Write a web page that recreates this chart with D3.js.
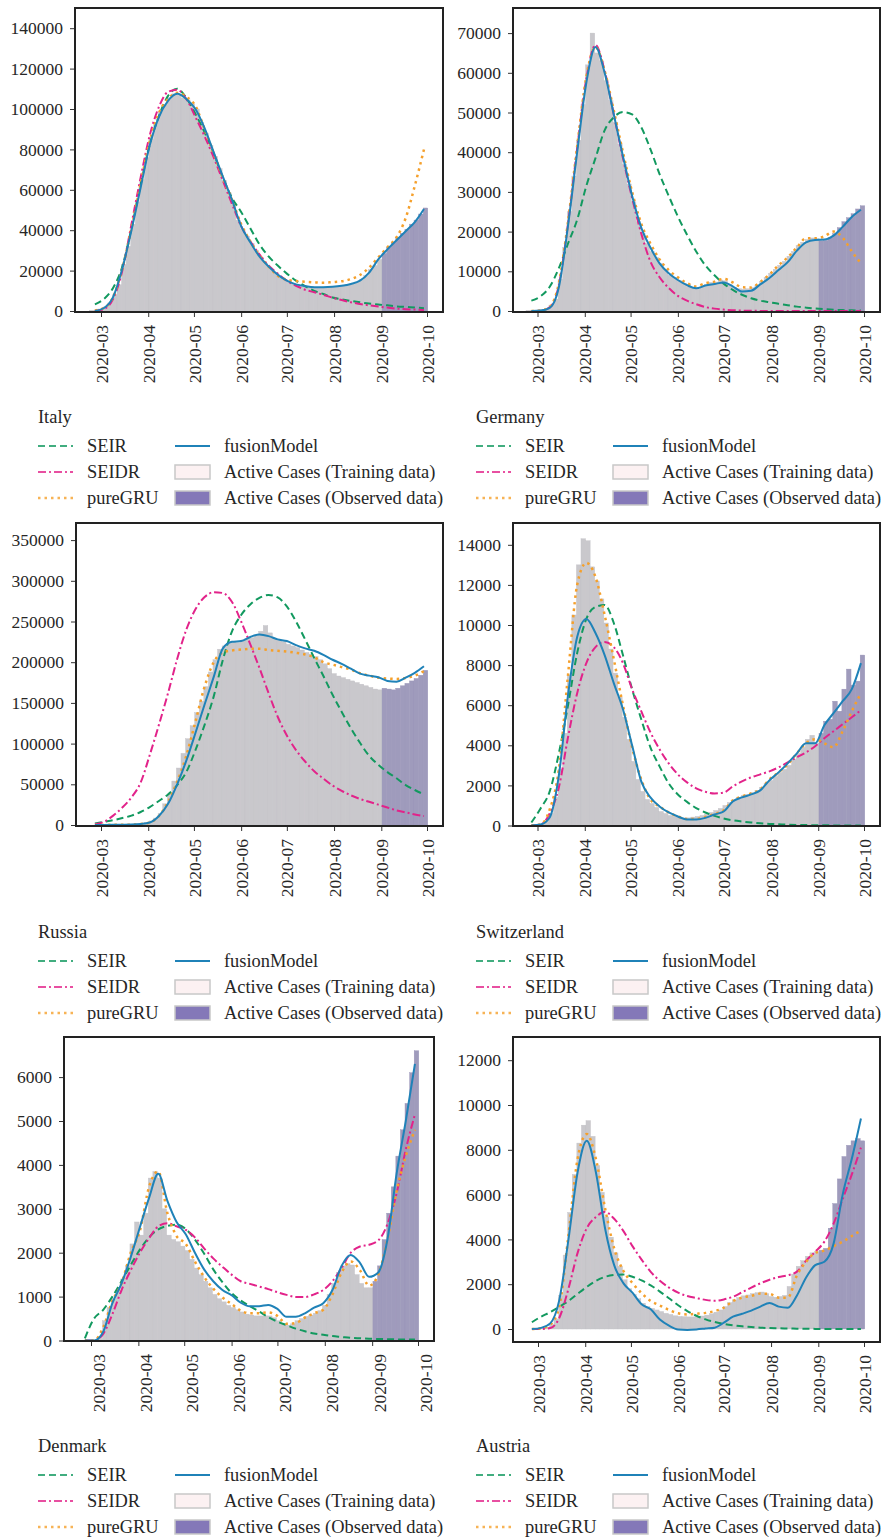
<!DOCTYPE html>
<html>
<head>
<meta charset="utf-8">
<script src="https://cdn.jsdelivr.net/npm/d3@7"></script>
<style>
  body { margin: 0; background: #fff; }
  svg { display: block; }
  text { font-family: "Liberation Serif", "Times New Roman", serif; fill: #262626; }
</style>
</head>
<body>
<div id="chart"></div>
<script>
// date grids: bars every 3 days, model curves every 6 days
const barStart = "2020-02-24", barStep = 3;
const lineStart = "2020-02-26", lineStep = 6;
const splitDate = "2020-09-01";
const monthTicks = ["2020-03", "2020-04", "2020-05", "2020-06", "2020-07", "2020-08", "2020-09", "2020-10"];

// ---- Italy
const italyTicks = [0, 20000, 40000, 60000, 80000, 100000, 120000, 140000];
const italyActive = [200,500,1000,2000,4000,8000,13000,23000,32000,43000,54000,65000,76000,85000,93000,98500,102000,105500,107500,107000,105500,104500,102500,100000,93500,88000,82000,76500,70500,64500,58500,52500,45000,40500,37000,33500,30000,26500,23500,21000,19000,17000,15500,14500,13500,13000,12500,12200,12000,11800,11800,11900,12000,12100,12300,12600,13000,13500,14300,15500,17500,20500,22500,25500,28500,31500,34000,36500,38500,40500,43000,45000,48000,51000];
const italySEIR = [3300,6000,11500,22000,41000,62500,82500,96500,106500,110000,105500,97500,88500,78000,66000,56000,49000,41000,33000,27000,22500,18500,15000,12300,10000,8400,6700,5800,5000,4300,3700,3200,2800,2300,2000,1700,1400];
const italySEIDR = [0,1000,6000,20000,43000,66000,87000,101000,108500,109500,105000,96000,86500,76000,64500,53000,42000,34500,28000,22500,18500,15000,12500,10500,9300,8000,6600,5400,4300,3500,2800,2200,1700,1200,900,700,500];
const italyGRU = [300,1500,7000,21000,41000,63000,84000,98000,105000,108000,106000,101500,90000,78000,66000,55000,43000,34500,27500,22000,17500,15500,14800,14500,14200,14000,14300,14700,15800,17800,21500,26500,31500,36500,46000,62000,80000];
const italyFusion = [0,1500,7000,21000,40000,61000,82000,96000,104000,107500,105000,100000,90500,78500,66500,55000,42000,34000,27000,22000,18000,15000,13200,12300,11800,11800,12000,12500,13400,15000,19000,25500,30500,35000,39500,44000,50500];

// ---- Germany
const germanyTicks = [0, 10000, 20000, 30000, 40000, 50000, 60000, 70000];
const germanyActive = [100,150,200,300,700,1500,3000,8000,16000,25000,34000,43000,52000,62000,70000,65000,63000,58000,53000,47500,42000,37000,32000,27500,22500,19500,17000,15000,13500,12000,10500,9000,8400,7700,7000,6600,6000,5500,6000,6600,7200,7300,7800,7600,6800,6000,5600,5500,5600,5900,6500,7500,8500,9500,10500,11500,12500,13800,15000,16500,17300,18000,18400,18200,17700,17800,18500,19500,21000,22500,23500,24500,25700,26500];
const germanySEIR = [2600,3700,6100,10800,17000,23000,31500,38500,45500,48800,50100,49500,46300,40800,34500,29000,23800,19200,15000,11500,9000,6900,5300,4100,3200,2600,2200,1800,1450,1100,850,620,450,320,230,160,100];
const germanySEIDR = [0,100,900,6500,22000,41000,58500,67000,60500,49500,38500,28500,19500,12500,8500,5800,3800,2600,1700,1000,600,350,200,100,50,30,20,10,10,5,0,0,0,0,0,0,0];
const germanyGRU = [0,150,1000,7000,22500,41500,59000,66500,60500,50500,40000,30000,22000,17000,13000,10300,8500,7000,6200,7000,7400,8100,7200,6000,5900,7300,9200,11500,13500,16000,18300,18300,18800,20000,18500,15000,12000];
const germanyFusion = [0,100,800,6000,21500,40000,57500,66500,60000,49500,39000,29000,21000,16000,12000,9500,7800,6500,5700,6400,6800,7200,6200,4900,5100,6700,8300,10300,12300,15200,17300,17900,18000,19000,21200,23700,25500];

// ---- Russia
const russiaTicks = [0, 50000, 100000, 150000, 200000, 250000, 300000, 350000];
const russiaActive = [0,0,50,100,100,200,300,400,600,900,1300,2000,3000,5000,8500,14000,26000,38000,54000,70000,88000,106000,122000,138000,152000,170000,188000,203000,216000,220000,223000,225000,224000,227000,229000,230000,233000,238000,245000,236000,229000,227000,225000,222000,220000,218000,215000,212000,210000,207000,203000,198000,192000,186000,183000,181000,179000,177000,175000,173000,171000,169000,167000,166000,168000,167000,166000,168000,171000,174000,177000,180000,184000,190000];
const russiaSEIR = [2000,4000,6000,8500,11500,16000,22000,29500,37500,49000,65000,92000,123000,158000,203000,238000,258000,271000,279000,282500,279500,268500,250000,228000,205000,183000,160000,139000,119000,101000,85000,74000,65000,57500,49000,43000,37500];
const russiaSEIDR = [1000,4000,11500,21500,34000,52000,86000,123000,162000,204000,240000,265000,280000,286000,285000,274000,250000,222000,193000,162000,133000,110000,92000,78000,66000,57000,48500,42000,36500,32000,28500,25000,21500,18000,15500,13000,11000];
const russiaGRU = [0,100,200,300,500,1200,3000,11000,28000,53000,85000,127000,170000,200000,212000,214500,215500,216500,216500,215000,214000,213000,211500,209500,206000,200000,197000,194000,191000,186500,183500,181000,180000,179500,180500,183500,189000];
const russiaFusion = [0,100,200,300,500,1200,3000,11000,26000,50000,79000,113000,148000,182000,217000,225000,226000,231000,234000,232000,228000,226000,221000,217000,214000,209000,203000,198000,192000,186000,183500,181500,177000,176000,181000,187000,195000];

// ---- Switzerland
const swissTicks = [0, 2000, 4000, 6000, 8000, 10000, 12000, 14000];
const swissActive = [0,0,20,50,200,600,1400,2800,4600,7500,10500,13000,14300,14200,12900,12200,11300,10100,8800,7600,6400,5400,4300,3200,2300,1700,1300,1100,900,700,600,500,450,400,380,380,420,450,500,560,650,750,850,1000,1150,1300,1400,1500,1550,1650,1750,1900,2100,2250,2450,2650,2800,3000,3300,3600,3900,4300,4500,4100,4600,5200,5300,6200,5700,6800,7800,7000,7200,8500];
const swissSEIR = [150,850,1700,3600,6000,8600,10300,10900,11000,10100,8500,6800,5300,3900,2950,2100,1550,1180,870,650,480,350,260,200,150,110,80,60,40,30,20,15,10,5,5,0,0];
const swissSEIDR = [0,50,600,1900,4400,6600,8100,8900,9150,8900,8100,6800,5700,4650,3800,3100,2550,2150,1850,1680,1600,1640,1950,2200,2400,2550,2700,2900,3150,3400,3650,3950,4350,4700,5050,5400,5750];
const swissGRU = [0,50,800,2800,7500,12000,13100,12400,10500,8300,6000,3900,2300,1300,950,650,450,330,330,420,580,750,1250,1450,1600,1800,2300,2650,3050,3600,4100,4300,4100,3900,4700,5700,6600];
const swissFusion = [0,50,400,2500,6500,9400,10300,9600,8500,7100,5800,4000,2200,1400,950,650,450,300,300,380,550,700,1200,1400,1550,1750,2250,2650,3100,3600,4100,4100,5000,5600,6200,6800,8100];

// ---- Denmark
const denmarkTicks = [0, 1000, 2000, 3000, 4000, 5000, 6000];
const denmarkActive = [0,0,0,0,50,450,750,950,1150,1400,1700,2200,2700,2400,2900,3700,3850,3700,3000,2400,2300,2250,2150,2050,1850,1650,1500,1350,1200,1050,950,880,800,750,700,650,600,580,560,560,560,560,520,450,380,350,380,450,500,550,580,620,680,800,1050,1300,1550,1700,1750,1720,1500,1300,1200,1200,1350,1700,2300,2900,3500,4200,4800,5400,6100,6600];
const denmarkSEIR = [50,500,700,1000,1350,1720,2070,2350,2530,2610,2640,2540,2300,1980,1620,1330,1080,910,780,660,530,430,350,270,210,160,130,100,80,60,50,40,35,30,25,20,20];
const denmarkSEIDR = [0,0,150,600,1150,1600,2000,2330,2600,2670,2600,2520,2350,2100,1870,1680,1500,1350,1290,1230,1170,1100,1040,990,990,1050,1150,1350,1650,2000,2140,2180,2280,2650,3350,4350,5150];
const denmarkGRU = [0,0,300,900,1300,2000,2500,3500,3850,2900,2380,2200,1800,1450,1180,980,830,680,620,620,640,560,380,400,520,620,700,1050,1550,1800,1600,1250,1500,2300,3400,4200,4800];
const denmarkFusion = [0,0,200,850,1300,1900,2580,3250,3800,3180,2700,2420,2000,1620,1350,1150,1030,860,780,780,810,720,540,540,620,750,850,1150,1700,1950,1770,1450,1550,2300,3800,5000,6300];

// ---- Austria
const austriaTicks = [0, 2000, 4000, 6000, 8000, 10000, 12000];
const austriaActive = [0,0,10,30,80,200,450,1500,3300,5200,6900,8300,9100,9300,8600,7300,6100,5000,4100,3400,2800,2200,1800,1550,1350,1150,1000,920,850,780,700,650,590,560,550,540,540,560,580,620,680,750,850,1000,1180,1300,1400,1480,1520,1580,1620,1650,1580,1450,1420,1450,1500,1900,2450,2800,3050,3250,3400,3450,3520,3600,4500,5600,6700,7700,8200,8400,8500,8400];
const austriaSEIR = [300,550,750,1000,1250,1570,1880,2150,2330,2410,2430,2330,2170,1950,1670,1370,1060,800,590,430,310,230,170,120,90,60,40,30,20,15,10,5,0,0,0,0,0];
const austriaSEIDR = [0,0,40,500,1800,3400,4500,5000,5230,4920,4380,3700,3100,2550,2150,1850,1620,1470,1380,1300,1260,1320,1440,1640,1850,2040,2200,2320,2400,2560,3050,3450,3900,4700,5800,6900,8100];
const austriaGRU = [0,30,200,1000,4200,7600,8700,7600,5400,3600,2600,2050,1600,1250,1050,850,700,650,680,720,800,950,1250,1400,1480,1580,1570,1400,1400,2400,3000,3400,3500,3700,3900,4150,4400];
const austriaFusion = [0,50,250,1300,4000,7000,8400,7000,4500,2850,2050,1620,1100,880,420,150,-20,-40,-20,20,60,280,550,680,820,1000,1160,1000,950,1500,2300,2850,3000,3800,6000,7600,9400];

const countries = [
  { name: "Italy", active: italyActive, SEIR: italySEIR, SEIDR: italySEIDR, pureGRU: italyGRU, fusionModel: italyFusion, ticks: italyTicks },
  { name: "Germany", active: germanyActive, SEIR: germanySEIR, SEIDR: germanySEIDR, pureGRU: germanyGRU, fusionModel: germanyFusion, ticks: germanyTicks },
  { name: "Russia", active: russiaActive, SEIR: russiaSEIR, SEIDR: russiaSEIDR, pureGRU: russiaGRU, fusionModel: russiaFusion, ticks: russiaTicks },
  { name: "Switzerland", active: swissActive, SEIR: swissSEIR, SEIDR: swissSEIDR, pureGRU: swissGRU, fusionModel: swissFusion, ticks: swissTicks },
  { name: "Denmark", active: denmarkActive, SEIR: denmarkSEIR, SEIDR: denmarkSEIDR, pureGRU: denmarkGRU, fusionModel: denmarkFusion, ticks: denmarkTicks },
  { name: "Austria", active: austriaActive, SEIR: austriaSEIR, SEIDR: austriaSEIDR, pureGRU: austriaGRU, fusionModel: austriaFusion, ticks: austriaTicks }
];

// pixel layout of each panel: frame box, x of Mar-1 / Oct-1, y of zero and px per tick step
const layout = {
  Italy:       { box: [75, 8, 443, 312],     mar: 101,   oct: 427, y0: 311,    step: 40.4, legend: [38, 417],   shift: 0 },
  Germany:     { box: [513, 8, 880, 312],    mar: 537.5, oct: 864, y0: 311,    step: 39.7, legend: [476, 417],  shift: 0 },
  Russia:      { box: [76, 523, 443, 826],   mar: 101,   oct: 427, y0: 825,    step: 40.7, legend: [38, 932],   shift: 0 },
  Switzerland: { box: [513, 523, 880, 826],  mar: 537.5, oct: 864, y0: 825.5,  step: 40.1, legend: [476, 932],  shift: 0 },
  Denmark:     { box: [64, 1037, 434, 1341], mar: 91,    oct: 418, y0: 1340.5, step: 43.9, legend: [38, 1446],  shift: 7 },
  Austria:     { box: [513, 1037, 880, 1342],mar: 538,   oct: 864, y0: 1329,   step: 44.8, legend: [476, 1446], shift: 0 }
};

const styles = {
  SEIR:        { color: "#12995f", dash: "7,4",     width: 2 },
  SEIDR:       { color: "#e2238a", dash: "8,3,2,3", width: 2 },
  pureGRU:     { color: "#f5a02c", dash: "2.5,4",   width: 2.5 },
  fusionModel: { color: "#1f82b8", dash: null,      width: 2 }
};
const trainFill = "#c9c8cc", obsFill = "#9f9bbc";

const parseDay = d3.utcParse("%Y-%m-%d");
const parseMonth = d3.utcParse("%Y-%m");
const split = parseDay(splitDate);
const barDate = i => d3.utcDay.offset(parseDay(barStart), i * barStep);
const lineDate = i => d3.utcDay.offset(parseDay(lineStart), i * lineStep);
const months = monthTicks.map(parseMonth);

const svg = d3.select("#chart").append("svg")
    .attr("width", 882)
    .attr("height", 1537);

countries.forEach((c, ci) => {
  const L = layout[c.name];
  const [bx0, by0, bx1, by1] = L.box;

  const x = d3.scaleUtc()
      .domain([parseMonth("2020-03"), parseMonth("2020-10")])
      .range([L.mar, L.oct]);
  const y = d3.scaleLinear()
      .domain([0, c.ticks[1]])
      .range([L.y0, L.y0 - L.step]);

  const g = svg.append("g");

  g.append("clipPath").attr("id", "clip" + ci)
    .append("rect")
      .attr("x", bx0).attr("y", by0)
      .attr("width", bx1 - bx0).attr("height", by1 - by0);

  const plot = g.append("g").attr("clip-path", `url(#clip${ci})`);

  // active cases bars
  const half = 36; // hours either side of the bar date
  plot.append("g")
    .selectAll("rect")
    .data(c.active)
    .join("rect")
      .attr("x", (d, i) => x(d3.utcHour.offset(barDate(i), -half)))
      .attr("width", (d, i) => x(d3.utcHour.offset(barDate(i), half)) - x(d3.utcHour.offset(barDate(i), -half)))
      .attr("y", d => y(Math.max(d, 0)))
      .attr("height", d => y(0) - y(Math.max(d, 0)))
      .attr("fill", (d, i) => barDate(i) > split ? obsFill : trainFill)
      .attr("stroke", (d, i) => barDate(i) > split ? "#9893b7" : "#c2c1c6")
      .attr("stroke-width", 0.4);

  // model curves
  const line = d3.line()
      .x((d, i) => x(lineDate(i)))
      .y(d => y(d))
      .curve(d3.curveMonotoneX);

  ["SEIR", "SEIDR", "pureGRU", "fusionModel"].forEach(k => {
    const s = styles[k];
    plot.append("path")
        .attr("d", line(c[k]))
        .attr("fill", "none")
        .attr("stroke", s.color)
        .attr("stroke-width", s.width)
        .attr("stroke-dasharray", s.dash)
        .attr("stroke-linejoin", "round");
  });

  // frame
  g.append("rect")
      .attr("x", bx0).attr("y", by0)
      .attr("width", bx1 - bx0).attr("height", by1 - by0)
      .attr("fill", "none")
      .attr("stroke", "#222")
      .attr("stroke-width", 2);

  // y axis
  g.append("g")
      .attr("transform", `translate(${bx0 - 1},0)`)
      .call(d3.axisLeft(y).tickValues(c.ticks).tickSize(4).tickPadding(7).tickFormat(d3.format("d")))
      .call(a => a.select(".domain").remove())
      .call(a => a.selectAll("line").attr("stroke", "#333"))
      .call(a => a.selectAll("text")
          .attr("font-size", 17.5)
          .attr("font-family", "Liberation Serif, serif")
          .attr("fill", "#2a2a2a"));

  // x axis with rotated month labels
  g.append("g")
      .attr("transform", `translate(0,${by1 + 1})`)
      .call(d3.axisBottom(x).tickValues(months).tickSize(4).tickFormat(d3.utcFormat("%Y-%m")))
      .call(a => a.select(".domain").remove())
      .call(a => a.selectAll("line").attr("stroke", "#333"))
      .call(a => a.selectAll("text")
          .attr("transform", "rotate(-90)")
          .attr("x", -12)
          .attr("y", L.shift)
          .attr("dy", "0.35em")
          .style("text-anchor", "end")
          .attr("font-size", 17.5)
          .attr("font-family", "Liberation Serif, serif")
          .attr("fill", "#2a2a2a"));

  // legend
  const [lx, ly] = L.legend;
  const lg = svg.append("g").attr("font-size", 18.4);
  lg.append("text").attr("x", lx).attr("y", ly).attr("dy", "0.35em").text(c.name);

  const rowY = i => ly + 29 + i * 26;
  ["SEIR", "SEIDR", "pureGRU"].forEach((k, i) => {
    const s = styles[k];
    lg.append("line")
        .attr("x1", lx).attr("x2", lx + 35)
        .attr("y1", rowY(i)).attr("y2", rowY(i))
        .attr("stroke", s.color).attr("stroke-opacity", 0.8)
        .attr("stroke-width", s.width)
        .attr("stroke-dasharray", s.dash);
    lg.append("text").attr("x", lx + 49).attr("y", rowY(i)).attr("dy", "0.35em").text(k);
  });

  const cx = lx + 137;
  lg.append("line")
      .attr("x1", cx).attr("x2", cx + 35)
      .attr("y1", rowY(0)).attr("y2", rowY(0))
      .attr("stroke", styles.fusionModel.color).attr("stroke-width", 2);
  lg.append("text").attr("x", cx + 49).attr("y", rowY(0)).attr("dy", "0.35em").text("fusionModel");

  [["#fcf1f2", "Active Cases (Training data)"], ["#8478b8", "Active Cases (Observed data)"]].forEach(([fill, label], i) => {
    lg.append("rect")
        .attr("x", cx).attr("y", rowY(i + 1) - 7)
        .attr("width", 35).attr("height", 14)
        .attr("fill", fill)
        .attr("stroke", "#c8c8c8").attr("stroke-width", 1.5);
    lg.append("text").attr("x", cx + 49).attr("y", rowY(i + 1)).attr("dy", "0.35em").text(label);
  });
});
</script>
</body>
</html>
